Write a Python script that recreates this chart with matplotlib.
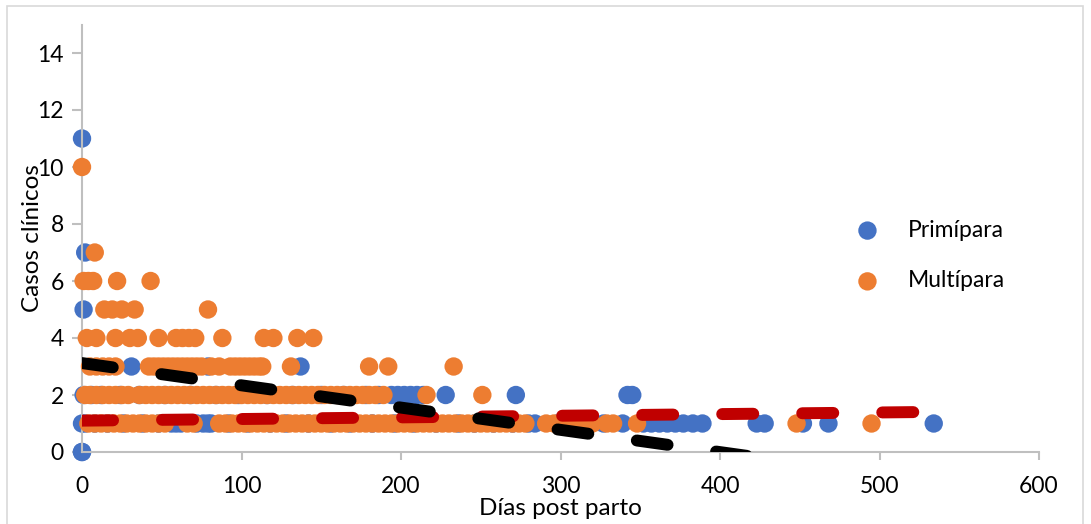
import matplotlib
matplotlib.use("Agg")
import matplotlib.pyplot as plt
from matplotlib.patches import Rectangle

plt.rcParams['font.family'] = ['Lato', 'DejaVu Sans']

# ---- data ----
prim_y0 = [0, 0]
prim_y1 = [0, 2, 8, 16, 26, 38, 48, 56, 59, 62, 72, 76, 79, 81, 92, 104, 118, 128, 142, 156,
           168, 182, 196, 208, 222, 236, 246, 258, 270, 280, 284, 298, 310, 327, 339, 352, 357,
           362, 367, 372, 377, 383, 389, 423, 428, 452, 468, 534]
prim_y2 = [1, 6, 12, 24, 36, 52, 68, 84, 98, 116, 132, 150, 164, 178, 186, 194, 198, 202, 206,
           210, 214, 228, 272, 342, 345]
prim_y3 = [31, 79, 137]
prim_y5 = [1]
prim_y7 = [2]
prim_y11 = [0]

mult_y1 = [4, 8, 12, 16, 20, 24, 28, 32, 36, 40, 44, 48, 52, 66, 70, 86, 90, 94, 98, 102, 106,
           110, 114, 118, 122, 126, 130, 134, 138, 142, 146, 150, 154, 158, 162, 166, 170, 174,
           178, 182, 186, 190, 194, 198, 202, 206, 210, 214, 218, 222, 226, 230, 234, 238, 242,
           246, 250, 254, 258, 262, 266, 270, 274, 278, 291, 296, 300, 304, 308, 312, 316, 320,
           329, 333, 348, 448, 495]
mult_y2 = [2, 5, 9, 13, 17, 21, 25, 29, 36, 40, 44, 48, 52, 56, 60, 64, 68, 72, 76, 80, 84, 88,
           92, 96, 100, 104, 108, 112, 116, 120, 124, 128, 132, 136, 140, 144, 148, 152, 156, 160,
           164, 168, 172, 176, 180, 184, 189, 216, 251]
mult_y3 = [5, 9, 13, 17, 21, 42, 45, 48, 51, 54, 57, 60, 63, 66, 69, 72, 75, 81, 86, 93, 96, 99,
           102, 105, 108, 111, 113, 131, 180, 192, 233]
mult_y4 = [3, 9, 21, 30, 35, 48, 59, 63, 67, 71, 88, 114, 120, 135, 145]
mult_y5 = [14, 19, 25, 33, 79]
mult_y6 = [1, 4, 7, 22, 43]
mult_y7 = [8]
mult_y10 = [0]

trend_black_x = [0, 534]
trend_black_y = [3.12, -1.05]
trend_red_x = [0, 522]
trend_red_y = [1.10, 1.40]

x_ticks = [0, 100, 200, 300, 400, 500, 600]
y_ticks = [0, 2, 4, 6, 8, 10, 12, 14]

labels = ['Primípara', 'Multípara']

# ---- assemble ----
def build(rows):
    xs, ys = [], []
    for yv, lst in rows:
        xs += lst
        ys += [yv] * len(lst)
    return xs, ys

prim_x, prim_y = build([(0, prim_y0), (1, prim_y1), (2, prim_y2), (3, prim_y3),
                        (5, prim_y5), (7, prim_y7), (11, prim_y11)])
mult_x, mult_y = build([(1, mult_y1), (2, mult_y2), (3, mult_y3), (4, mult_y4),
                        (5, mult_y5), (6, mult_y6), (7, mult_y7), (10, mult_y10)])

W, H = 1091, 524
fig = plt.figure(figsize=(W / 100, H / 100), dpi=100)
fig.add_artist(Rectangle((7 / W, -0.05), (1083 - 7) / W, 1.05 - 6 / H,
                         transform=fig.transFigure, fill=False,
                         edgecolor='#D9D9D9', linewidth=1.2))

ax = fig.add_axes([82 / W, (H - 452) / H, (1039 - 82) / W, (452 - 24.5) / H])

blue = '#4472C4'
orange = '#ED7D31'
ax.scatter(prim_x, prim_y, s=175, color=blue, edgecolors='none', label=labels[0],
           zorder=2, clip_on=False)
ax.scatter(mult_x, mult_y, s=175, color=orange, edgecolors='none', label=labels[1],
           zorder=3, clip_on=False)

lw = 8.6
ax.plot(trend_red_x, trend_red_y, color='#C00000', linewidth=lw,
        linestyle=(0, (2.6, 4.1)), dash_capstyle='round', zorder=4)
ax.plot(trend_black_x, trend_black_y, color='black', linewidth=lw,
        linestyle=(0, (2.6, 4.1)), dash_capstyle='round', zorder=5)

ax.set_xlim(0, 600)
ax.set_ylim(0, 15)
ax.set_xticks(x_ticks)
ax.set_yticks(y_ticks)

for s in ['top', 'right']:
    ax.spines[s].set_visible(False)
for s in ['left', 'bottom']:
    ax.spines[s].set_color('#BFBFBF')
    ax.spines[s].set_linewidth(1.5)

ax.tick_params(axis='x', length=6, width=1.5, color='#BFBFBF', labelsize=16.5, pad=11,
               labelcolor='black')
ax.tick_params(axis='y', length=7, width=1.5, color='#BFBFBF', labelsize=16.5, pad=6,
               labelcolor='black')

ax.set_xlabel('Días post parto', fontsize=17.5, labelpad=1)
ax.set_ylabel('Casos clínicos', fontsize=17.5, labelpad=-4)

leg = ax.legend(loc='center left', bbox_to_anchor=(856 / W, (524 - 255.5) / H),
                bbox_transform=fig.transFigure, frameon=False, fontsize=16.5,
                handlelength=1.0, handletextpad=1.25, labelspacing=1.3,
                borderpad=0, borderaxespad=0, scatterpoints=1)

fig.savefig('out.png', dpi=100)
